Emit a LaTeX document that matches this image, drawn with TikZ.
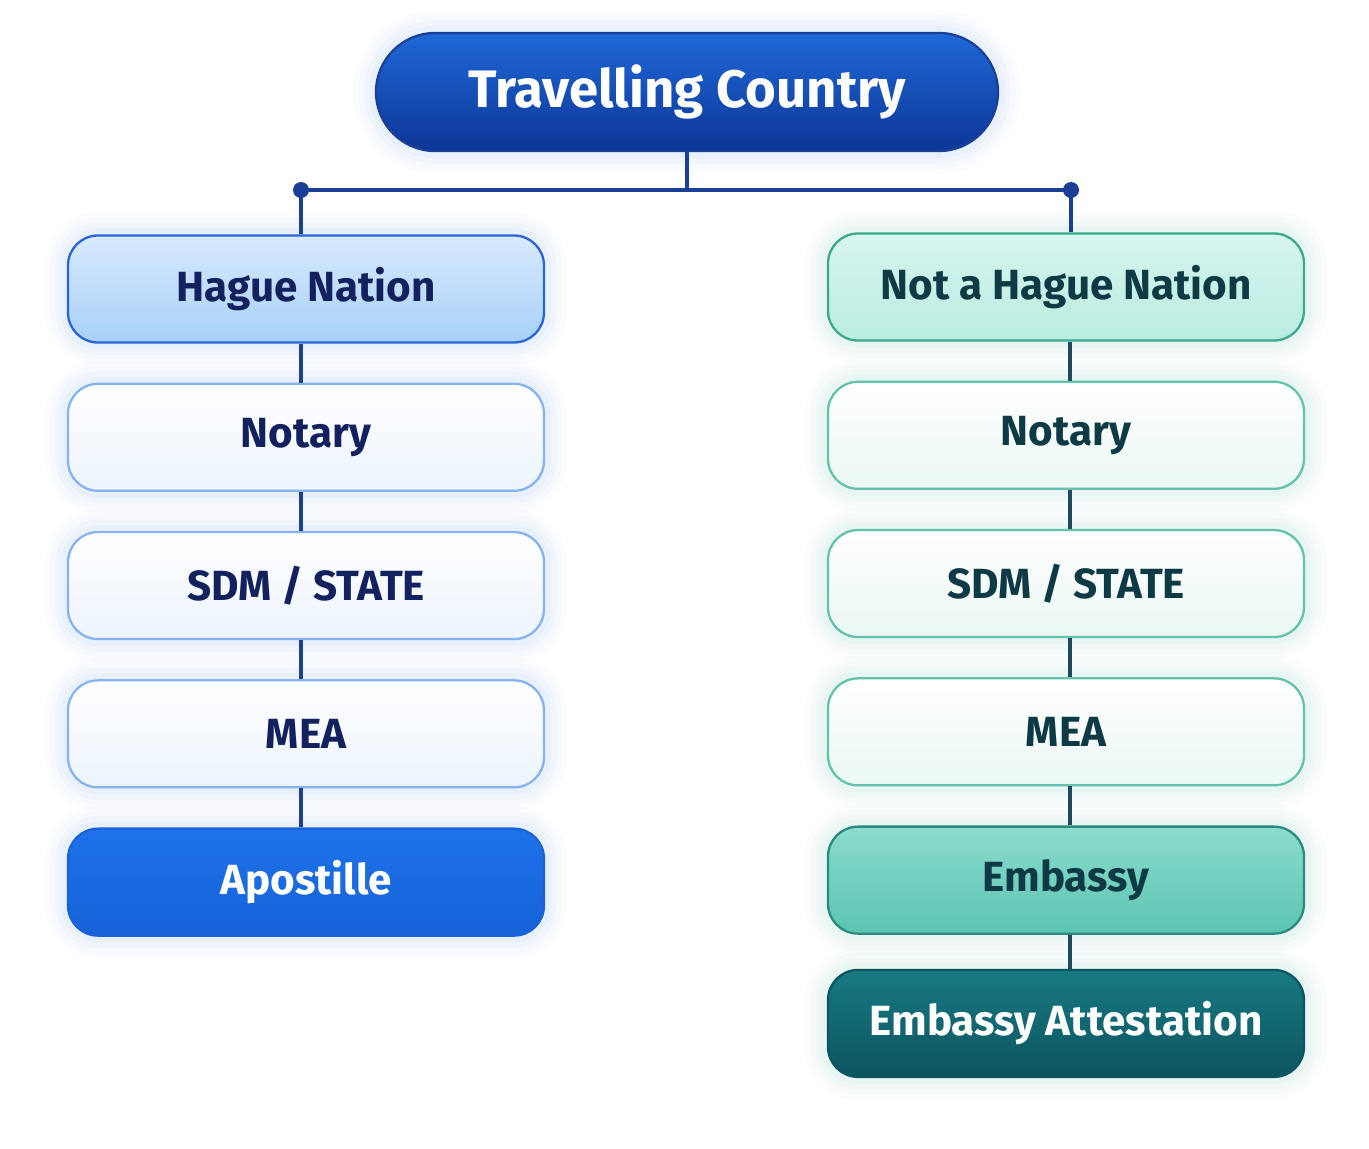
\documentclass[tikz,border=0pt]{standalone}
\usepackage{fontspec}
\setmainfont{Fira Sans}
\usetikzlibrary{positioning}

\definecolor{navytext}{HTML}{13215E}
\definecolor{tealtext}{HTML}{0E3A45}
\definecolor{linkblue}{HTML}{1B3E96}
\definecolor{linkteal}{HTML}{1D4A5E}
\definecolor{glowblue}{HTML}{3C82EE}
\definecolor{glowteal}{HTML}{3DB39C}
% fills and borders
\definecolor{titletop}{HTML}{2068D8}
\definecolor{titlebot}{HTML}{0C3696}
\definecolor{haguetop}{HTML}{D8EAFD}
\definecolor{haguebot}{HTML}{A8D0F8}
\definecolor{hagueline}{HTML}{2A63D8}
\definecolor{paleblue}{HTML}{ECF4FE}
\definecolor{paleblueline}{HTML}{86B3F0}
\definecolor{apotop}{HTML}{1E72EA}
\definecolor{apobot}{HTML}{1662D8}
\definecolor{apoline}{HTML}{1A62D6}
\definecolor{nonhtop}{HTML}{D6F5EE}
\definecolor{nonhbot}{HTML}{BAECE0}
\definecolor{nonhline}{HTML}{3AA88F}
\definecolor{paleteal}{HTML}{EAF8F4}
\definecolor{paletealline}{HTML}{62C2AB}
\definecolor{embtop}{HTML}{8CDCCC}
\definecolor{embbot}{HTML}{5CC4B2}
\definecolor{embline}{HTML}{2A8A80}
\definecolor{atttop}{HTML}{187A82}
\definecolor{attbot}{HTML}{0B5460}
\definecolor{attline}{HTML}{0D5560}

\begin{document}
\begin{tikzpicture}[
        node distance=0.78cm,
        glow/.style={preaction={draw=#1, line width=26pt, opacity=0.02},
                     preaction={draw=#1, line width=20pt, opacity=0.025},
                     preaction={draw=#1, line width=14pt, opacity=0.03},
                     preaction={draw=#1, line width=8pt, opacity=0.04}},
        step box/.style={rectangle, rounded corners=0.6cm, minimum width=9.52cm, minimum height=2.14cm, line width=1.3pt, font=\fontsize{24}{28}\selectfont\bfseries},  % one stage of the chain
        left box/.style={step box, glow=glowblue, draw=#1, text=navytext},
        right box/.style={step box, glow=glowteal, draw=#1, text=tealtext},
        link/.style={line width=2.4pt, draw=linkblue},
        dot/.style={circle, fill=linkblue, inner sep=0pt, minimum size=0.32cm},
    ]
        \useasboundingbox[fill=white] (0,0) rectangle (27.38,-22.98);

        %Nodes
        \node[rectangle, rounded corners=1.18cm, minimum width=12.44cm, minimum height=2.36cm, glow=glowblue,
              draw=linkblue, line width=1.3pt, top color=titletop, bottom color=titlebot,
              text=white, font=\fontsize{30}{34}\selectfont\bfseries] (Country) at (13.74,-1.84) {Travelling Country};

        \node[left box=hagueline, top color=haguetop, bottom color=haguebot] (Hague) at (6.12,-5.78) {Hague Nation};
        \node[left box=paleblueline, top color=white, bottom color=paleblue] (NotaryL) [below=of Hague] {Notary};
        \node[left box=paleblueline, top color=white, bottom color=paleblue] (StateL) [below=of NotaryL] {SDM / STATE};
        \node[left box=paleblueline, top color=white, bottom color=paleblue] (MeaL) [below=of StateL] {MEA};
        \node[left box=apoline, top color=apotop, bottom color=apobot, text=white] (Apostille) [below=of MeaL] {Apostille};

        \node[right box=nonhline, top color=nonhtop, bottom color=nonhbot] (NonHague) at (21.32,-5.74) {Not a Hague Nation};
        \node[right box=paletealline, top color=white, bottom color=paleteal] (NotaryR) [below=of NonHague] {Notary};
        \node[right box=paletealline, top color=white, bottom color=paleteal] (StateR) [below=of NotaryR] {SDM / STATE};
        \node[right box=paletealline, top color=white, bottom color=paleteal] (MeaR) [below=of StateR] {MEA};
        \node[right box=embline, top color=embtop, bottom color=embbot] (Embassy) [below=of MeaR] {Embassy};
        \node[right box=attline, top color=atttop, bottom color=attbot, text=white] (Attest) [below=0.68cm of Embassy] {Embassy Attestation};

        \coordinate (Split) at (Country.south |- 0,-3.8);
        \node[dot] (DotL) at ([xshift=-0.1cm]Hague.north |- Split) {};
        \node[dot] (DotR) at ([xshift=0.1cm]NonHague.north |- Split) {};

        %Lines
        \draw[link] (Country.south) -- (Split);
        \draw[link] (DotL.center) -- (DotR.center);
        \draw[link] (DotL.center) -- (DotL.center |- Hague.north);
        \draw[link] (DotR.center) -- (DotR.center |- NonHague.north);
        \draw[link] ([xshift=-0.1cm]Hague.south) -- ([xshift=-0.1cm]NotaryL.north);
        \draw[link] ([xshift=-0.1cm]NotaryL.south) -- ([xshift=-0.1cm]StateL.north);
        \draw[link] ([xshift=-0.1cm]StateL.south) -- ([xshift=-0.1cm]MeaL.north);
        \draw[link] ([xshift=-0.1cm]MeaL.south) -- ([xshift=-0.1cm]Apostille.north);
        \draw[link, draw=linkteal] ([xshift=0.08cm]NonHague.south) -- ([xshift=0.08cm]NotaryR.north);
        \draw[link, draw=linkteal] ([xshift=0.08cm]NotaryR.south) -- ([xshift=0.08cm]StateR.north);
        \draw[link, draw=linkteal] ([xshift=0.08cm]StateR.south) -- ([xshift=0.08cm]MeaR.north);
        \draw[link, draw=linkteal] ([xshift=0.08cm]MeaR.south) -- ([xshift=0.08cm]Embassy.north);
        \draw[link, draw=linkteal] ([xshift=0.08cm]Embassy.south) -- ([xshift=0.08cm]Attest.north);
    \end{tikzpicture}
\end{document}
